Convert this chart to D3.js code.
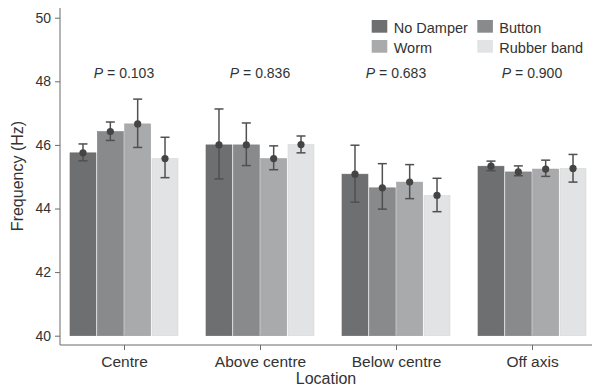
<!DOCTYPE html>
<html>
<head>
<meta charset="utf-8">
<script src="https://cdn.jsdelivr.net/npm/d3@7"></script>
<style>
	body { margin: 0; background: #fff; }
	svg text { font-family: "Liberation Sans", Arial, sans-serif; fill: #333; }
</style>
</head>
<body>
<div id="chart"></div>
<script>
var locations = ["Centre", "Above centre", "Below centre", "Off axis"];
var dampers = ["No Damper", "Button", "Worm", "Rubber band"];
var pValues = ["0.103", "0.836", "0.683", "0.900"];
var yTicks = [40, 42, 44, 46, 48, 50];

// mean frequency per location, one row per location, one column per damper
var means = [
	[45.75, 46.42, 46.66, 45.57],
	[46.00, 46.00, 45.57, 46.01],
	[45.08, 44.65, 44.83, 44.41],
	[45.33, 45.15, 45.24, 45.26]
];
var errLow = [
	[45.50, 46.14, 45.92, 44.97],
	[44.93, 45.35, 45.22, 45.75],
	[44.20, 43.98, 44.31, 43.90],
	[45.19, 45.03, 45.01, 44.83]
];
var errHigh = [
	[46.03, 46.72, 47.44, 46.24],
	[47.13, 46.69, 45.97, 46.28],
	[45.99, 45.41, 45.38, 44.95],
	[45.49, 45.34, 45.52, 45.70]
];

var colors = {
	"No Damper": "#6e6f71",
	"Button": "#898a8c",
	"Worm": "#a9aaac",
	"Rubber band": "#e2e3e4"
};

var width = 592, height = 387;
var svg = d3.select("#chart").append("svg")
	.attr("width", width)
	.attr("height", height);

var x = d3.scalePoint()
	.domain(locations)
	.range([56, 600])
	.padding(0.5);
var xInner = d3.scaleBand()
	.domain(dampers)
	.range([-54, 54])
	.paddingInner(0.05);
var y = d3.scaleLinear()
	.domain([40, 50])
	.range([335.7, 17.7]);

var axisColor = "#6b6b6b";

// bars
var groups = svg.selectAll(".group")
	.data(locations).enter()
	.append("g")
		.attr("class", "group")
		.attr("transform", function(d){ return "translate(" + x(d) + ",0)"; });

groups.selectAll(".bar")
	.data(function(d, i){
		return dampers.map(function(k, j){
			return {damper: k, mean: means[i][j], lo: errLow[i][j], hi: errHigh[i][j]};
		});
	}).enter()
	.append("rect")
		.attr("class", "bar")
		.attr("x", function(d){ return xInner(d.damper); })
		.attr("width", xInner.bandwidth())
		.attr("y", function(d){ return y(d.mean); })
		.attr("height", function(d){ return y(40) - y(d.mean); })
		.attr("fill", function(d){ return colors[d.damper]; })
		.attr("stroke", function(d){ return d3.color(colors[d.damper]).darker(0.15); })
		.attr("stroke-width", 0.6);

// error bars
var errs = groups.selectAll(".err")
	.data(function(d, i){
		return dampers.map(function(k, j){
			return {damper: k, mean: means[i][j], lo: errLow[i][j], hi: errHigh[i][j]};
		});
	}).enter()
	.append("g")
		.attr("class", "err")
		.attr("transform", function(d){ return "translate(" + (xInner(d.damper) + xInner.bandwidth() / 2) + ",0)"; });
errs.append("line")
	.attr("x1", 0).attr("x2", 0)
	.attr("y1", function(d){ return y(d.lo); })
	.attr("y2", function(d){ return y(d.hi); })
	.attr("stroke", "#505050").attr("stroke-width", 1.5);
errs.append("line")
	.attr("x1", -4.5).attr("x2", 4.5)
	.attr("y1", function(d){ return y(d.lo); })
	.attr("y2", function(d){ return y(d.lo); })
	.attr("stroke", "#505050").attr("stroke-width", 1.5);
errs.append("line")
	.attr("x1", -4.5).attr("x2", 4.5)
	.attr("y1", function(d){ return y(d.hi); })
	.attr("y2", function(d){ return y(d.hi); })
	.attr("stroke", "#505050").attr("stroke-width", 1.5);
errs.append("circle")
	.attr("cx", 0)
	.attr("cy", function(d){ return y(d.mean); })
	.attr("r", 3.6)
	.attr("fill", "#444");

// P values
svg.selectAll(".pval")
	.data(locations).enter()
	.append("text")
		.attr("class", "pval")
		.attr("x", function(d){ return x(d); })
		.attr("y", 78)
		.attr("text-anchor", "middle")
		.style("font-size", "14px")
		.each(function(d, i){
			var t = d3.select(this);
			t.append("tspan").style("font-style", "italic").text("P");
			t.append("tspan").text(" = " + pValues[i]);
		});

// y axis
var yAxis = svg.append("g")
	.attr("transform", "translate(60,0)")
	.call(d3.axisLeft(y).tickValues(yTicks).tickSize(5).tickSizeOuter(0).tickPadding(4));
yAxis.select(".domain").attr("d", "M0,8V345");
yAxis.selectAll("line, path").attr("stroke", axisColor);
yAxis.selectAll("text").style("font-size", "14px").attr("fill", "#333");

// x axis
var xAxis = svg.append("g")
	.attr("transform", "translate(0,345)")
	.call(d3.axisBottom(x).tickSize(5).tickSizeOuter(0).tickPadding(5.5));
xAxis.select(".domain").attr("d", "M60,0H592");
xAxis.selectAll("line, path").attr("stroke", axisColor);
xAxis.selectAll("text").style("font-size", "15.5px").attr("fill", "#333");

// axis titles
svg.append("text")
	.attr("x", 326)
	.attr("y", 384)
	.attr("text-anchor", "middle")
	.style("font-size", "16px")
	.text("Location");
svg.append("text")
	.attr("transform", "translate(23,176) rotate(-90)")
	.attr("text-anchor", "middle")
	.style("font-size", "16px")
	.text("Frequency (Hz)");

// legend
var legend = svg.selectAll(".legend")
	.data(dampers).enter()
	.append("g")
		.attr("class", "legend")
		.attr("transform", function(d, i){
			return "translate(" + (i % 2 == 0 ? 371.7 : 477.3) + "," + (i < 2 ? 20 : 40) + ")";
		});
legend.append("rect")
	.attr("width", 15.6)
	.attr("height", 12.7)
	.attr("fill", function(d){ return colors[d]; });
legend.append("text")
	.attr("x", 22)
	.attr("y", 12.7)
	.style("font-size", "14.5px")
	.text(function(d){ return d; });
</script>
</body>
</html>
